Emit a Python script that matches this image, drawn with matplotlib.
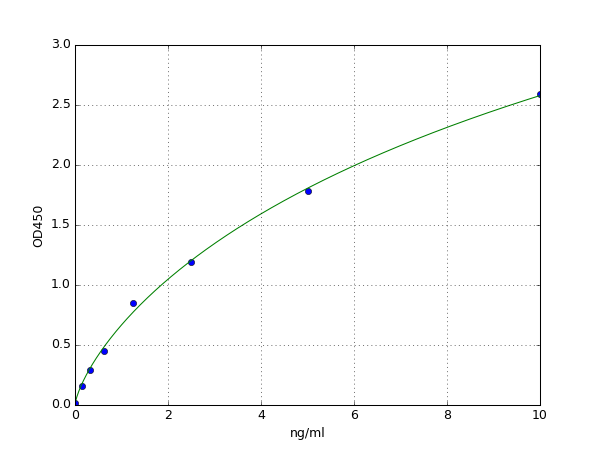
import numpy as np
import matplotlib
matplotlib.use('Agg')
import matplotlib.pyplot as plt

plt.style.use('classic')

# Standard points
conc = [0.0, 0.156, 0.3125, 0.625, 1.25, 2.5, 5.0, 10.0]
od450 = [0.02, 0.16, 0.29, 0.45, 0.85, 1.19, 1.78, 2.59]

x = np.array(conc)
y = np.array(od450)


# 4PL fit: grid over b and c, linear least squares for a and d
def fit_4pl(x, y):
    best = None
    xs = np.maximum(x, 1e-9)
    for b in np.linspace(0.5, 1.5, 101):
        for c in np.logspace(0, 2.5, 151):
            g = 1.0 / (1.0 + (xs / c) ** b)
            A = np.column_stack([g, 1 - g])
            coef, *_ = np.linalg.lstsq(A, y, rcond=None)
            err = np.sum((A @ coef - y) ** 2)
            if best is None or err < best[0]:
                best = (err, coef[0], b, c, coef[1])
    return best[1:]


a, b, c, d = fit_4pl(x, y)
xx = np.linspace(0, 10, 500)
yy = d + (a - d) / (1 + (xx / c) ** b)

fig = plt.figure(figsize=(8, 6), dpi=75)
ax = fig.add_axes([0.125, 0.1, 0.775, 0.8])
ax.plot(x, y, 'bo', markersize=6)
ax.plot(xx, yy, 'g-', linewidth=1)
ax.grid(True)

ax.set_xlim(0, 10)
ax.set_ylim(0, 3.0)
ax.set_xticks(np.arange(0, 11, 2))
ax.set_yticks(np.arange(0, 3.01, 0.5))
ax.set_xlabel('ng/ml')
ax.set_ylabel('OD450')

fig.savefig('out.png', dpi=75)
